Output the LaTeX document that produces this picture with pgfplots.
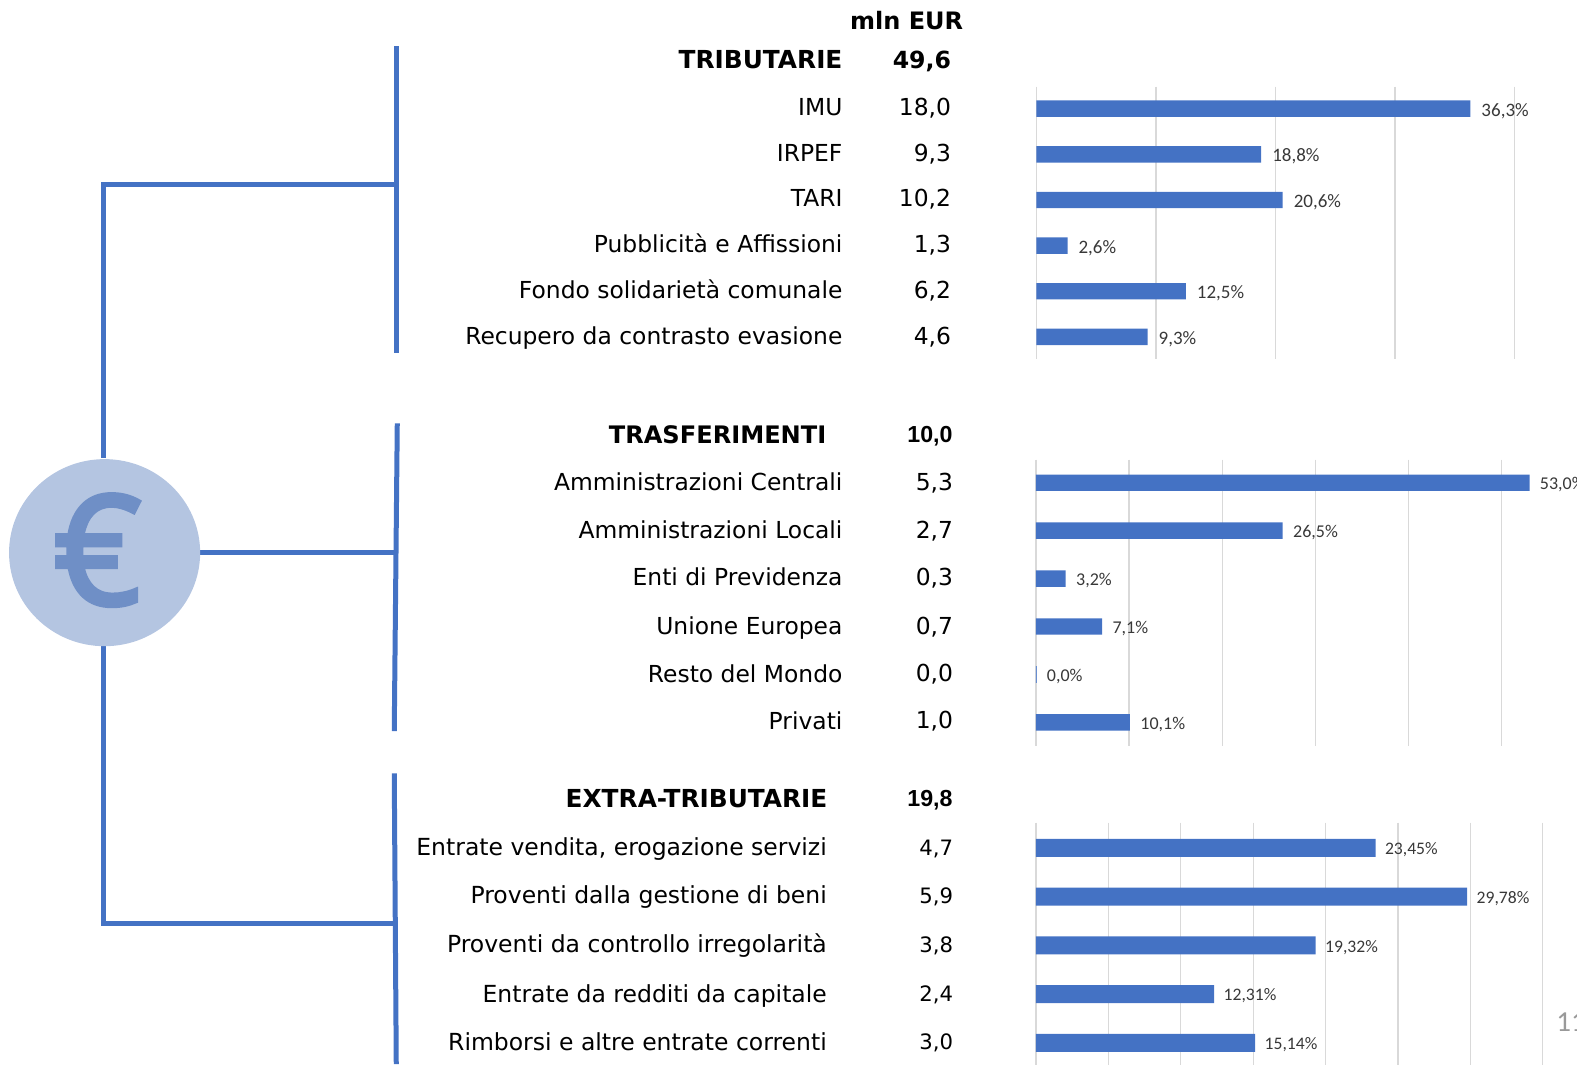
\documentclass[border=0pt]{standalone}
\usepackage{fontspec}
\setmainfont{DejaVu Sans}
\newfontfamily\lab{Carlito}
\newfontfamily\arialish{Liberation Sans}
\newfontfamily\eurofont[FakeBold=3]{Open Sans}
\usepackage{pgfplots}
\pgfplotsset{compat=1.18}
\definecolor{bluebar}{HTML}{4472C4}
\definecolor{circ}{HTML}{B4C5E1}
\definecolor{eur}{HTML}{6F8FC6}
\newcommand{\T}[3]{\node[anchor=base east,inner sep=0pt] at (#1,#2+8.5) {#3};}
\pgfplotsset{
  panel/.style={
    scale only axis, enlargelimits=false, xbar, y dir=reverse, bar shift=0pt,
    ytick=\empty, xticklabel=\empty, xmajorgrids,
    major grid style={draw=black!15, line width=0.65pt},
    axis line style={draw=none}, tick style={draw=none},
    point meta=x,
    /pgf/number format/assume math mode=true,
    /pgf/number format/fixed, /pgf/number format/fixed zerofill,
    /pgf/number format/use comma,
    nodes near coords={\pgfmathprintnumber{\pgfplotspointmeta}\%},
  }
}
\begin{document}
\begin{tikzpicture}[x=0.50287pt,y=-0.50287pt]
\path[use as bounding box,clip] (0,0) rectangle (1568,1058);

% charts
\begin{axis}[panel, at={({1030.5*0.50287pt},{-86*0.50287pt})}, anchor=north west,
  width={475.5*0.50287pt}, height={271*0.50287pt},
  xmin=0, xmax=40, xtick={0,10,20,30,40}, ymin=-0.485, ymax=5.485,
  bar width=8.2pt, /pgf/number format/precision=1,
  every node near coord/.append style={font=\lab\fontsize{9.5}{10}\selectfont,text=black!78,xshift=2pt,yshift=-1.1pt}]
\addplot[draw=none,fill=bluebar] coordinates {(36.3,0) (18.8,1) (20.6,2) (2.6,3) (12.5,4) (9.3,5)};
\end{axis}
\begin{axis}[panel, at={({1030*0.50287pt},{-457*0.50287pt})}, anchor=north west,
  width={555.6*0.50287pt}, height={285*0.50287pt},
  xmin=0, xmax=60, xtick={0,10,20,30,40,50,60}, ymin=-0.483, ymax=5.5,
  bar width=8.2pt, /pgf/number format/precision=1,
  every node near coord/.append style={font=\lab\fontsize{9}{10}\selectfont,text=black!78,xshift=1.7pt,yshift=-1.1pt}]
\addplot[draw=none,fill=bluebar] coordinates {(53.0,0) (26.5,1) (3.2,2) (7.1,3) (10.1,5)};
\addplot[draw=bluebar!80,fill=bluebar,line width=0.6pt] coordinates {(0.04,4)};
\end{axis}
\begin{axis}[panel, at={({1030*0.50287pt},{-818*0.50287pt})}, anchor=north west,
  width={504*0.50287pt}, height={243*0.50287pt},
  xmin=0, xmax=35, xtick={0,5,10,15,20,25,30,35}, ymin=-0.515, ymax=4.495,
  bar width=9pt, /pgf/number format/precision=2,
  every node near coord/.append style={font=\lab\fontsize{8.8}{10}\selectfont,text=black!78,xshift=1.2pt,yshift=-0.9pt}]
\addplot[draw=none,fill=bluebar] coordinates {(23.45,0) (29.78,1) (19.32,2) (12.31,3) (15.14,4)};
\end{axis}

% tree
\draw[bluebar,line width=2.5pt] (394,46) -- (394,351);
\draw[bluebar,line width=2.5pt] (395,421) -- (392,727);
\draw[bluebar,line width=2.5pt] (392,769) -- (394,1058);
\draw[bluebar,line width=2.5pt] (393,183) -- (103,183) -- (103,455);
\draw[bluebar,line width=2.5pt] (103,642) -- (103,918) -- (393,918);
\draw[bluebar,line width=2.5pt] (199,549) -- (393,549);
\fill[circ] (104,549.5) circle[x radius=95,y radius=93];
\node[text=eur,inner sep=0pt] at (97,547) {\eurofont\fontsize{76}{76}\selectfont €};

% text
\fontsize{11.7}{14}\selectfont
\node[font=\fontsize{12}{14}\selectfont\bfseries,inner sep=0pt] at (901.5,20) {mln EUR};
\T{838}{60}{\fontsize{12.4}{14}\selectfont\bfseries TRIBUTARIE} \T{946}{60}{\fontsize{11.8}{14}\selectfont\bfseries 49,6}
\T{838}{106}{IMU} \T{946}{106}{18,0}
\T{838}{152}{IRPEF} \T{946}{152}{9,3}
\T{838}{197}{TARI} \T{946}{197}{10,2}
\T{838}{243}{Pubblicità e Affissioni} \T{946}{243}{1,3}
\T{838}{288}{Fondo solidarietà comunale} \T{946}{288}{6,2}
\T{838}{334}{Recupero da contrasto evasione} \T{946}{334}{4,6}

\T{822}{432}{\fontsize{12.05}{14}\selectfont\bfseries TRASFERIMENTI} \T{947.5}{431}{\arialish\fontsize{11.6}{13}\selectfont\bfseries 10,0}
\T{838}{479}{Amministrazioni Centrali} \T{948}{479}{5,3}
\T{838}{527}{Amministrazioni Locali} \T{948}{527}{2,7}
\T{838}{574}{Enti di Previdenza} \T{948}{574}{0,3}
\T{838}{622}{Unione Europea} \T{948}{622}{0,7}
\T{838}{670}{Resto del Mondo} \T{948}{669}{0,0}
\T{838}{717}{Privati} \T{948}{716}{1,0}

\T{823}{794}{\fontsize{12.4}{14}\selectfont\bfseries EXTRA-TRIBUTARIE} \T{947.5}{793}{\arialish\fontsize{11.6}{13}\selectfont\bfseries 19,8}
\fontsize{11.75}{14}\selectfont
\T{822.5}{842}{Entrate vendita, erogazione servizi} \T{948}{842}{\fontsize{10.6}{14}\selectfont 4,7}
\T{822.5}{890}{Proventi dalla gestione di beni} \T{948}{890}{\fontsize{10.6}{14}\selectfont 5,9}
\T{822.5}{939}{Proventi da controllo irregolarità} \T{948}{939}{\fontsize{10.6}{14}\selectfont 3,8}
\T{822.5}{988}{Entrate da redditi da capitale} \T{948}{987}{\fontsize{10.6}{14}\selectfont 2,4}
\T{822.5}{1036}{Rimborsi e altre entrate correnti} \T{948}{1035}{\fontsize{10.6}{14}\selectfont 3,0}

\node[anchor=west,inner sep=0pt,text=black!40] at (1547,1016) {\lab\fontsize{14.5}{16}\selectfont 11};
\end{tikzpicture}
\end{document}
